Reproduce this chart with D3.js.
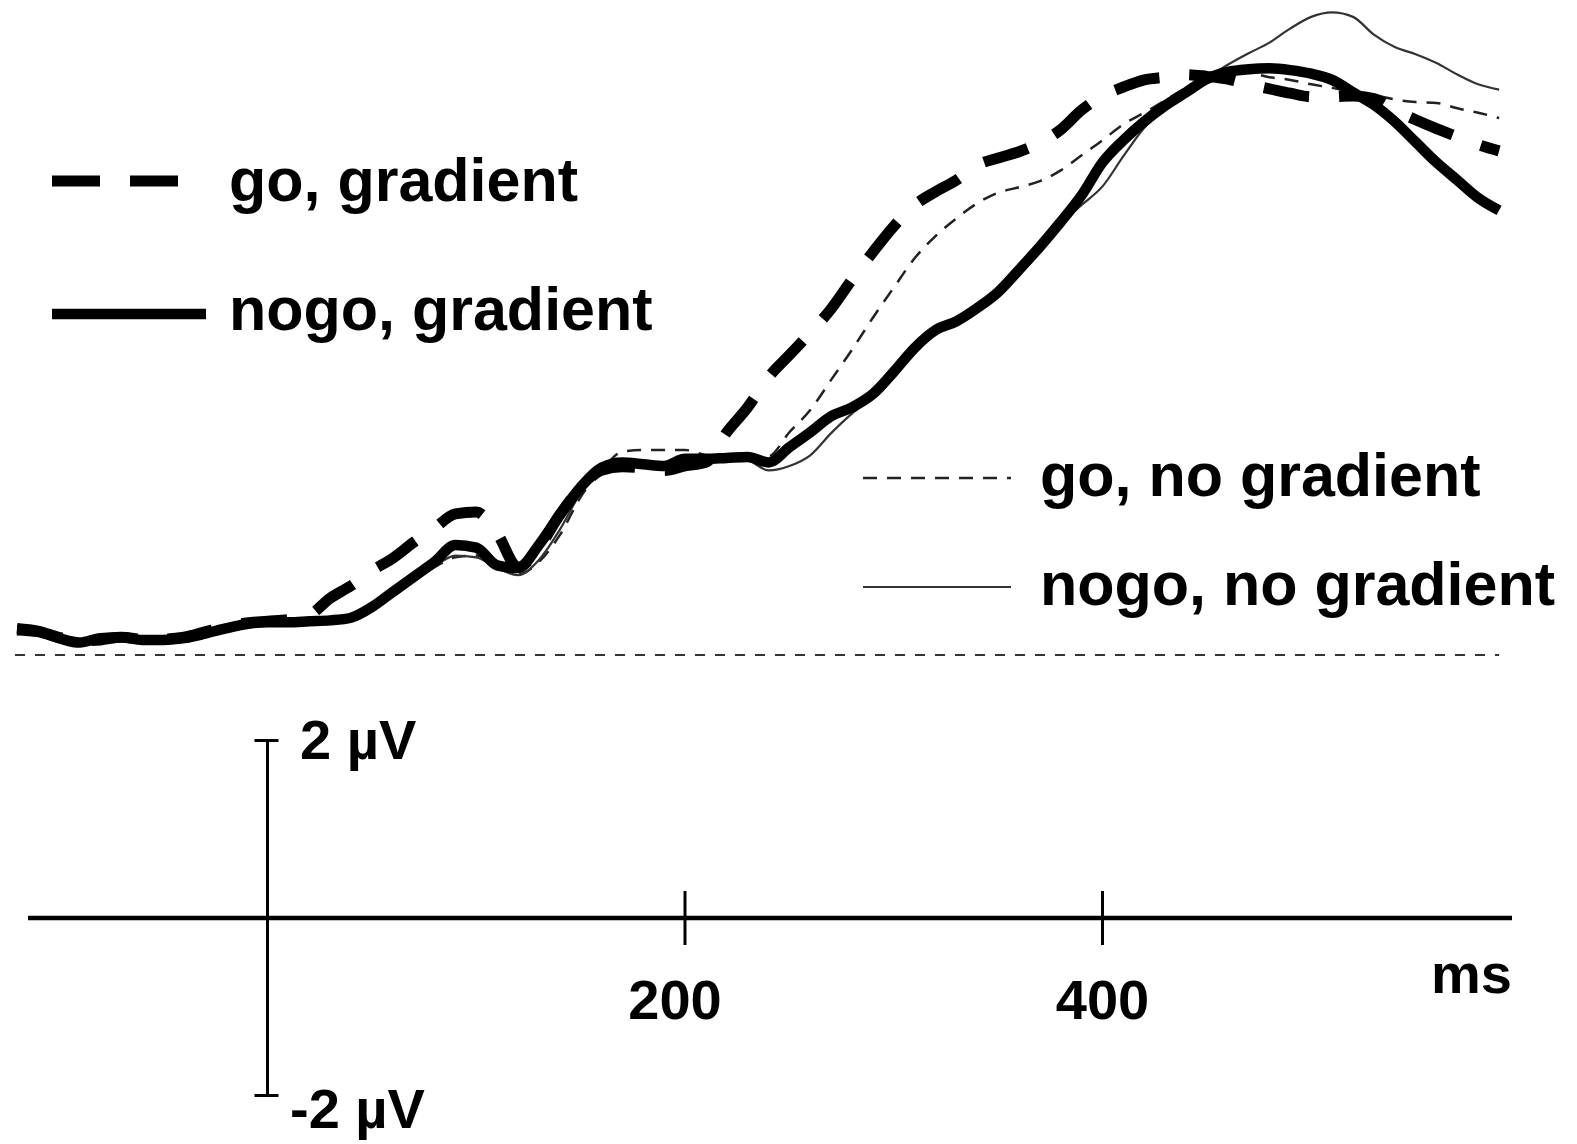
<!DOCTYPE html>
<html>
<head>
<meta charset="utf-8">
<script src="https://cdn.jsdelivr.net/npm/d3@7"></script>
<style>
  html, body { margin: 0; padding: 0; background: #fff; }
  svg { display: block; }
  text { font-family: "Liberation Sans", Arial, sans-serif; font-weight: bold; fill: #000; }
</style>
</head>
<body>
<div id="chart"></div>
<script>
// time points (ms) shared by all four waveforms
const timesMs = [-120, -110, -100, -90, -80, -70, -60, -50, -40, -30, -20, -10,
    0, 10, 20, 30, 40, 50, 60, 70, 80, 90, 100, 110, 120, 130, 140, 150, 160, 170, 180, 190,
    200, 210, 220, 230, 240, 250, 260, 270, 280, 290, 300, 310, 320, 330, 340, 350, 360, 370,
    380, 390, 400, 410, 420, 430, 440, 450, 460, 470, 480, 490, 500, 510, 520, 530, 540, 550,
    560, 570, 580, 590];

// amplitudes (µV)
const goGradient = [0.30, 0.27, 0.20, 0.16, 0.17, 0.20, 0.18, 0.18, 0.20, 0.26, 0.32, 0.36,
    0.38, 0.40, 0.45, 0.64, 0.78, 0.95, 1.09, 1.27, 1.43, 1.59, 1.61, 1.37, 0.99, 1.21, 1.58, 1.88, 2.08, 2.12, 2.11, 2.08,
    2.13, 2.17, 2.51, 2.79, 3.13, 3.38, 3.63, 3.90, 4.23, 4.54, 4.83, 5.07, 5.22, 5.35, 5.52, 5.60, 5.67, 5.77,
    5.92, 6.14, 6.30, 6.40, 6.48, 6.51, 6.54, 6.52, 6.49, 6.43, 6.38, 6.33, 6.29, 6.29, 6.30, 6.27, 6.14, 6.03,
    5.93, 5.84, 5.75, 5.68];

const nogoGradient = [0.28, 0.26, 0.19, 0.14, 0.19, 0.20, 0.17, 0.17, 0.19, 0.24, 0.30, 0.35,
    0.37, 0.37, 0.38, 0.39, 0.42, 0.54, 0.71, 0.88, 1.05, 1.24, 1.21, 1.01, 0.98, 1.24, 1.58, 1.89, 2.11, 2.17, 2.15, 2.13,
    2.21, 2.21, 2.22, 2.23, 2.17, 2.34, 2.51, 2.69, 2.79, 2.94, 3.19, 3.46, 3.66, 3.76, 3.91, 4.09, 4.34, 4.60,
    4.88, 5.18, 5.55, 5.80, 6.01, 6.19, 6.34, 6.49, 6.57, 6.60, 6.61, 6.59, 6.55, 6.48, 6.34, 6.20, 6.01, 5.78,
    5.55, 5.35, 5.15, 5.01];

const goNoGradient = [0.27, 0.25, 0.18, 0.13, 0.20, 0.19, 0.17, 0.16, 0.18, 0.23, 0.29, 0.34,
    0.36, 0.37, 0.38, 0.40, 0.43, 0.52, 0.66, 0.83, 0.99, 1.10, 1.12, 0.99, 0.91, 1.05, 1.35, 1.78, 2.08, 2.29, 2.31, 2.31,
    2.31, 2.25, 2.22, 2.23, 2.24, 2.51, 2.76, 3.10, 3.44, 3.80, 4.14, 4.47, 4.72, 4.92, 5.09, 5.21, 5.27, 5.34,
    5.46, 5.63, 5.80, 5.98, 6.11, 6.25, 6.39, 6.50, 6.57, 6.56, 6.51, 6.48, 6.43, 6.39, 6.34, 6.31, 6.26, 6.23,
    6.22, 6.16, 6.11, 6.05];

const nogoNoGradient = [0.26, 0.24, 0.18, 0.15, 0.21, 0.18, 0.16, 0.17, 0.19, 0.25, 0.29, 0.33,
    0.36, 0.38, 0.37, 0.39, 0.41, 0.52, 0.68, 0.85, 1.00, 1.12, 1.10, 0.98, 0.90, 1.07, 1.41, 1.82, 2.06, 2.14, 2.16, 2.16,
    2.19, 2.19, 2.20, 2.19, 2.08, 2.13, 2.25, 2.50, 2.72, 2.90, 3.14, 3.44, 3.63, 3.75, 3.89, 4.07, 4.30, 4.56,
    4.85, 5.07, 5.28, 5.62, 5.94, 6.17, 6.33, 6.50, 6.65, 6.78, 6.90, 7.06, 7.19, 7.24, 7.19, 6.99, 6.85, 6.77,
    6.67, 6.54, 6.43, 6.37];

const seriesNames = ["go, gradient", "nogo, gradient", "go, no gradient", "nogo, no gradient"];

// calibration scale
const timeTicks = [200, 400];
const timeTickLabels = ["200", "400"];
const voltTicks = [2, -2];
const voltTickLabels = ["2 µV", "-2 µV"];
const timeUnit = "ms";

const width = 1577, height = 1144;

const svg = d3.select("#chart")
    .append("svg")
    .attr("width", width)
    .attr("height", height);

// scales
const x = d3.scaleLinear().domain([0, 400]).range([267.5, 1102.5]);
const pxPerUv = 88.75;
const yWave = d3.scaleLinear().domain([0, 1]).range([655, 655 - pxPerUv]);
const yCal = d3.scaleLinear().domain([-2, 2]).range([918 + 2 * pxPerUv, 918 - 2 * pxPerUv]);

// line styles per series
const styles = {
    "go, gradient":      {width: 11, dash: "46,30", color: "#000"},
    "nogo, gradient":    {width: 10.5, dash: null, color: "#000"},
    "go, no gradient":   {width: 2.5, dash: "14,10", color: "#222"},
    "nogo, no gradient": {width: 2.2, dash: null, color: "#333"}
};

const waves = [
    {name: "go, gradient", values: goGradient},
    {name: "nogo, gradient", values: nogoGradient},
    {name: "go, no gradient", values: goNoGradient},
    {name: "nogo, no gradient", values: nogoNoGradient}
];

// baseline
svg.append("line")
    .attr("x1", x(timesMs[0]) - 2)
    .attr("x2", x(timesMs[timesMs.length - 1]))
    .attr("y1", yWave(0))
    .attr("y2", yWave(0))
    .attr("stroke", "#333")
    .attr("stroke-width", 2)
    .attr("stroke-dasharray", "10,10");

const line = d3.line()
    .x((d, i) => x(timesMs[i]))
    .y(d => yWave(d))
    .curve(d3.curveMonotoneX);

// thin traces below, thick ones on top
const drawOrder = ["go, no gradient", "nogo, no gradient", "go, gradient", "nogo, gradient"];
svg.selectAll(".wave")
    .data(drawOrder.map(n => waves.find(w => w.name === n)))
    .join("path")
    .attr("class", "wave")
    .attr("fill", "none")
    .attr("stroke", d => styles[d.name].color)
    .attr("stroke-width", d => styles[d.name].width)
    .attr("stroke-dasharray", d => styles[d.name].dash)
    .attr("stroke-linejoin", "round")
    .attr("d", d => line(d.values));

// legends
const legendPos = [
    {x1: 52, x2: 179, y: 181, tx: 229, ty: 201},
    {x1: 52, x2: 206, y: 314, tx: 229, ty: 330},
    {x1: 863, x2: 1011, y: 478, tx: 1040, ty: 496},
    {x1: 863, x2: 1011, y: 587, tx: 1040, ty: 605}
];

const legend = svg.selectAll(".legend-item")
    .data(seriesNames)
    .join("g")
    .attr("class", "legend-item");

legend.append("line")
    .attr("x1", (d, i) => legendPos[i].x1)
    .attr("x2", (d, i) => legendPos[i].x2)
    .attr("y1", (d, i) => legendPos[i].y)
    .attr("y2", (d, i) => legendPos[i].y)
    .attr("stroke", d => styles[d].color)
    .attr("stroke-width", d => styles[d].width)
    .attr("stroke-dasharray", (d, i) => i === 0 ? "48,30" : styles[d].dash);

legend.append("text")
    .attr("x", (d, i) => legendPos[i].tx)
    .attr("y", (d, i) => legendPos[i].ty)
    .style("font-size", "61px")
    .text(d => d);

// calibration: time axis
const cal = svg.append("g").attr("class", "calibration");

cal.append("line")
    .attr("x1", 28)
    .attr("x2", 1512)
    .attr("y1", yCal(0))
    .attr("y2", yCal(0))
    .attr("stroke", "#000")
    .attr("stroke-width", 4.5);

cal.selectAll(".time-tick")
    .data(timeTicks)
    .join("line")
    .attr("class", "time-tick")
    .attr("x1", d => x(d))
    .attr("x2", d => x(d))
    .attr("y1", yCal(0) - 27)
    .attr("y2", yCal(0) + 27)
    .attr("stroke", "#000")
    .attr("stroke-width", 3);

// the printed labels sit a little left of the 200 tick
const labelNudge = [-10, 0];
cal.selectAll(".time-label")
    .data(timeTicks)
    .join("text")
    .attr("class", "time-label")
    .attr("x", (d, i) => x(d) + labelNudge[i])
    .attr("y", 1019)
    .attr("text-anchor", "middle")
    .style("font-size", "56px")
    .text((d, i) => timeTickLabels[i]);

cal.append("text")
    .attr("x", 1512)
    .attr("y", 993)
    .attr("text-anchor", "end")
    .style("font-size", "56px")
    .text(timeUnit);

// calibration: voltage bar
cal.append("line")
    .attr("x1", x(0))
    .attr("x2", x(0))
    .attr("y1", yCal(2))
    .attr("y2", yCal(-2))
    .attr("stroke", "#000")
    .attr("stroke-width", 3);

cal.selectAll(".volt-tick")
    .data(voltTicks)
    .join("line")
    .attr("class", "volt-tick")
    .attr("x1", x(0) - 13)
    .attr("x2", x(0) + 11)
    .attr("y1", d => yCal(d))
    .attr("y2", d => yCal(d))
    .attr("stroke", "#000")
    .attr("stroke-width", 3);

cal.selectAll(".volt-label")
    .data(voltTicks)
    .join("text")
    .attr("class", "volt-label")
    .attr("x", d => d > 0 ? 300 : 290)
    .attr("y", d => yCal(d) + (d > 0 ? 18 : 32))
    .style("font-size", "56px")
    .text((d, i) => voltTickLabels[i]);
</script>
</body>
</html>
